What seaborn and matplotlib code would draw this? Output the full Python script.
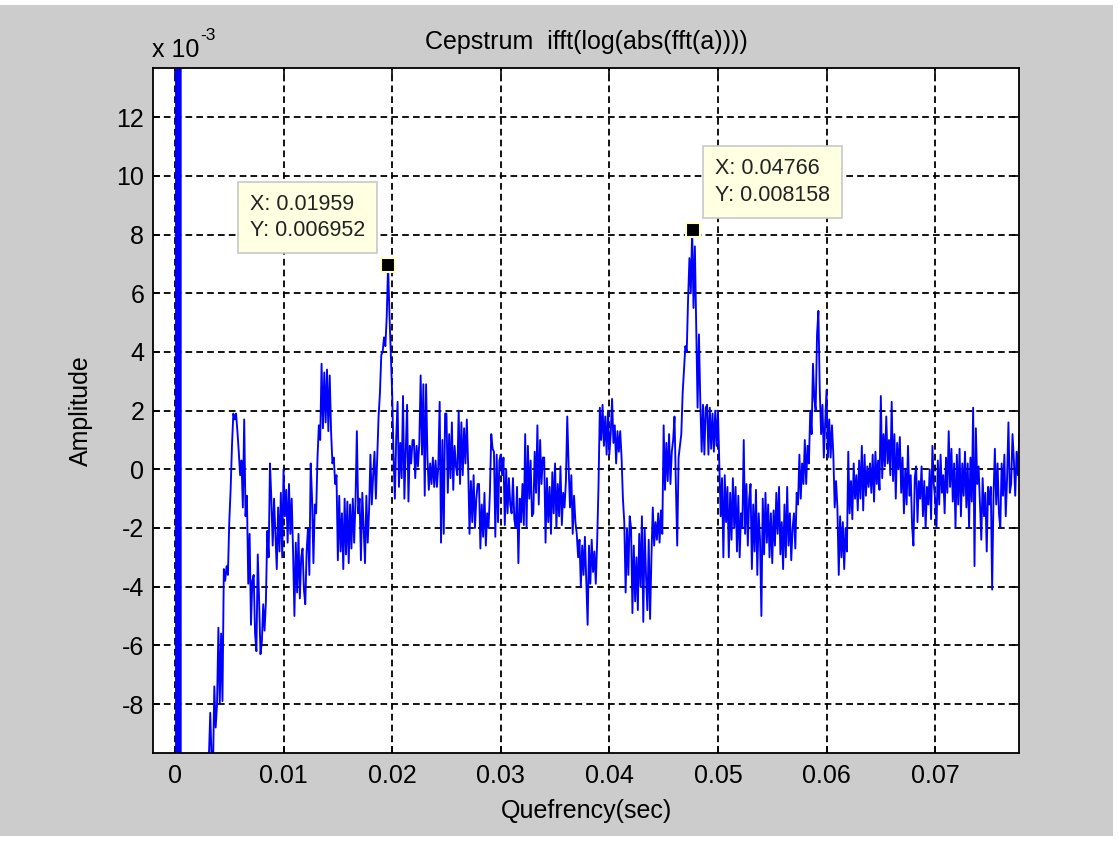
import numpy as np
import seaborn as sns
import matplotlib.pyplot as plt
from matplotlib.patches import Rectangle
from matplotlib.ticker import FuncFormatter

plt.rcParams["font.family"] = ["Liberation Sans", "DejaVu Sans"]
plt.rcParams["axes.unicode_minus"] = False

# first samples at the native rate (huge values around zero quefrency)
fs_rate = 22050
amp_start = [-300, -250, -200, 150, -120, 100, -90, 70, -60, 50, -45, 35, -30, -15]

# rest of the trace, in units of 1e-3,
# one row per millisecond starting at 3 ms, step 0.125 ms
t_main0 = 0.003
dt = 0.000125
amp_ms = [
    [-10.5, -9.8, -8.3, -9.9, -10.2, -7.4, -8.8, -8.0],   # 3 ms
    [-5.4, -8.0, -5.6, -7.9, -3.4, -3.8, -3.3, -3.6],
    [-1.8, -0.7, 0.8, 1.9, 1.7, 1.9, 1.3, 0.6],
    [-0.2, 0.3, -1.3, 1.7, -1.6, -0.9, -3.9, -2.2],
    [-5.3, -3.8, -3.6, -5.6, -6.2, -2.9, -4.5, -6.3],
    [-5.9, -4.6, -5.5, -4.5, -2.1, -3.0, 0.2, -1.0],
    [-2.6, -1.0, -2.2, -3.4, -1.3, -2.8, -0.8, -3.0],
    [0.0, -1.6, -0.7, -2.5, -0.5, -2.2, -1.0, -2.8],      # 10 ms
    [-5.0, -2.5, -4.2, -2.2, -4.4, -3.0, -2.7, -4.1],
    [-4.6, -2.8, -2.0, -3.6, 0.2, -1.0, -3.2, -1.2],
    [-1.5, 0.4, 1.5, 1.0, 3.6, 1.4, 3.3, 1.6],
    [3.4, 1.3, 3.2, 1.3, 0.2, 0.4, -0.5, -0.2],
    [-3.1, -0.9, -2.8, -1.5, -3.4, -1.0, -2.9, -1.1],
    [-3.2, -1.2, -2.7, -1.0, -2.5, -1.1, 1.3, -1.5],
    [-1.0, -3.1, -0.8, -2.0, -3.2, -0.9, -2.5, -1.4],
    [0.5, -1.2, -0.2, 0.6, -1.0, 0.4, 1.8, 2.6],
    [3.9, 4.0, 4.5, 4.2, 5.2, 6.952, 5.3, 4.0],
    [2.6, 0.5, -1.0, 1.1, 2.3, -0.6, 0.9, -0.3],          # 20 ms
    [2.5, -1.0, 0.6, 2.2, -1.1, 0.8, 0.2, 1.0],
    [1.0, -0.3, 0.8, 0.1, 0.9, 3.2, 0.5, 2.9],
    [-0.9, 2.9, 0.4, -0.7, 0.2, -0.5, 0.4, -0.6],
    [0.3, -0.6, 0.1, 2.3, -2.5, 1.0, -2.2, 1.9],
    [1.9, -0.8, 1.2, -0.3, 1.6, -0.7, 0.8, 0.1],
    [-0.2, 2.0, -0.5, 1.6, -0.2, 1.4, 0.2, 1.7],
    [0.1, -2.2, -0.4, -1.8, -0.2, -2.0, -1.0, -0.5],
    [-0.5, -2.7, -1.2, -2.3, -0.8, -2.6, -1.5, -2.0],
    [-0.8, 1.2, 0.7, 0.6, -2.3, 0.5, -1.8, 0.3],
    [0.5, -0.2, 0.4, -1.9, 0.0, -1.5, -0.3, -1.2],        # 30 ms
    [-1.5, -0.3, -1.7, -2.0, -0.6, -3.2, -1.0, -1.8],
    [-0.5, -1.9, 1.2, -2.0, 0.8, -1.0, 0.3, -1.6],
    [-1.5, 0.6, -0.8, 1.5, -1.2, 1.0, -0.5, 0.4],
    [0.4, -2.5, -0.3, -1.8, -0.6, -2.2, -0.1, -1.5],
    [0.2, -2.0, -0.5, -1.6, 0.1, -1.9, -0.8, -1.3],
    [-0.4, 1.8, 0.1, -1.3, -0.2, -2.2, -0.9, -1.8],
    [-2.2, -3.0, -2.4, -4.0, -2.6, -3.6, -2.3, -3.8],
    [-5.3, -2.6, -3.9, -2.4, -3.5, -2.8, -3.9, -2.5],
    [-0.6, 2.1, 1.0, 2.2, 0.8, 1.8, 0.5, 2.0],
    [0.5, 1.2, 2.4, 0.9, 1.5, 0.2, 1.3, 0.6],             # 40 ms
    [1.3, 0.4, -1.0, -1.8, -4.2, -2.0, -3.6, -1.6],
    [-2.0, -4.9, -2.6, -4.5, -3.0, -4.8, -2.2, -4.0],
    [-1.6, -5.2, -2.0, -3.6, -4.8, -2.4, -5.1, -3.0],
    [-1.3, -2.6, -1.8, -2.4, -1.5, -2.5, -1.4, -2.2],
    [1.5, -0.7, 0.9, -0.4, 1.2, -0.5, 0.6, 1.0],
    [1.8, -0.5, -2.6, 0.4, 0.8, 1.2, 2.6, 3.4],
    [4.2, 4.0, 5.8, 7.2, 6.0, 8.158, 5.5, 7.6],
    [4.9, 2.1, 4.6, 2.3, 0.6, 2.2, 0.5, 2.1],
    [2.2, 0.5, 2.1, 0.7, 1.9, 0.6, 2.0, 0.8],
    [2.0, 0.2, -1.6, -0.3, -3.0, -0.2, -1.8, -0.6],       # 50 ms
    [-3.0, -0.8, -2.4, -0.3, -2.0, -0.6, -2.8, -0.9],
    [-3.0, -1.5, -2.0, 1.0, -2.2, -0.5, -2.6, -1.0],
    [-0.5, -3.4, -1.2, -2.8, -0.7, -3.6, -1.5, -2.4],
    [-5.0, -1.0, -2.9, -0.8, -2.5, -1.2, -3.0, -1.5],
    [-3.2, -1.4, -2.6, -0.8, -2.2, -0.6, -2.9, -1.8],
    [-3.4, -1.2, -3.0, -0.6, -2.6, -1.5, -3.1, -2.0],
    [-1.5, -2.7, -0.8, -1.2, 0.5, -1.0, 0.2, -0.5],
    [1.0, -0.5, 0.8, 0.2, 2.0, 1.2, 3.6, 2.4],
    [2.0, 4.6, 5.4, 2.7, 1.2, 2.2, 0.4, 1.6],
    [2.7, 0.4, 1.7, 0.4, 1.5, 0.5, -1.3, -0.4],           # 60 ms
    [-1.3, -3.6, -1.6, -3.0, -1.8, -3.4, -2.0, -2.8],
    [0.6, -1.5, -0.4, -1.7, 0.2, -1.0, -0.2, -1.4],
    [0.3, -1.0, 0.8, -1.4, 0.5, -0.9, 0.1, -0.6],
    [0.2, -0.8, 0.5, -1.1, 0.6, -0.5, 0.3, -0.7],
    [2.5, -0.3, 1.2, 0.1, 1.8, 0.2, 1.0, -0.2],
    [2.3, -0.4, 1.2, -1.0, 0.9, 0.0, 1.1, -0.8],
    [0.4, -1.5, 0.0, -1.2, 0.8, -0.9, -0.2, -1.9],
    [-2.6, -0.3, 0.1, -1.8, -0.4, -1.0, 0.1, -1.6],
    [-0.4, -2.0, -0.6, -1.2, 0.0, -1.7, 0.8, -0.5],
    [-1.0, -2.0, 0.3, -1.2, 0.5, -0.8, -0.2, -1.5],       # 70 ms
    [0.4, -0.8, 1.3, -0.6, 0.7, -1.1, 0.2, -2.0],
    [0.5, -1.2, 0.7, -1.6, 0.2, -0.9, 0.6, -1.3],
    [0.2, -2.0, 0.4, -1.1, 2.1, -3.3, 1.4, -0.5],
    [0.1, -1.2, -2.4, -0.3, -1.6, -0.8, -2.8, -0.6],
    [-1.2, -0.6, -4.1, -0.9, 0.7, -1.2, 0.2, -1.5],
    [-2.0, 0.2, -0.9, 0.5, -1.6, -0.3, 1.6, -0.8],
    [-0.5, 1.2, 0.3, -0.9, 0.6, -0.2, 1.2],               # 77 ms
]

# data tips shown on the chart
tip_x = [0.01959, 0.04766]
tip_y = [0.006952, 0.008158]
tip_text = ["X: 0.01959\nY: 0.006952", "X: 0.04766\nY: 0.008158"]
tip_offset = [(-80, 48), (80, 48)]

amp_main = np.concatenate([np.asarray(r, dtype=float) for r in amp_ms])
amp = np.concatenate([amp_start, amp_main]) * 1e-3
quef = np.concatenate([np.arange(len(amp_start)) / fs_rate,
                       t_main0 + np.arange(len(amp_main)) * dt])

W, H = 1119, 841
fig = plt.figure(figsize=(W / 100, H / 100), dpi=100, facecolor="white")
fig.patches.append(Rectangle((0, 5 / H), 1 - 6 / W, 1 - 10 / H, transform=fig.transFigure,
                             facecolor="#cccccc", edgecolor="none", zorder=-10))
ax = fig.add_axes([152.7 / W, (H - 752.7) / H, 866.6 / W, 684.4 / H])
ax.set_facecolor("white")
fs = 18

sns.lineplot(x=quef, y=amp, ax=ax, color="#0000ff", lw=1.35, estimator=None, sort=False)

ax.set_xlim(-0.00205, 0.07775)
ax.set_ylim(-9.66e-3, 13.67e-3)
ax.set_xticks(np.arange(0, 0.071, 0.01))
ax.set_yticks(np.arange(-8, 13, 2) * 1e-3)
ax.xaxis.set_major_formatter(FuncFormatter(lambda v, p: f"{v:.2f}".rstrip("0").rstrip(".") if abs(v) > 1e-9 else "0"))
ax.yaxis.set_major_formatter(FuncFormatter(lambda v, p: f"{v * 1e3:.0f}"))

ax.grid(True, color="black", linestyle=(0, (3.7, 2.3)), lw=1.3)
ax.set_axisbelow(True)
ax.tick_params(direction="in", top=True, right=True, length=5, width=1.2,
               labelsize=fs, colors="black")
ax.tick_params(axis="x", pad=8)
ax.tick_params(axis="y", pad=6)
for s in ax.spines.values():
    s.set_color("black")
    s.set_linewidth(1.3)

ax.set_title("Cepstrum  ifft(log(abs(fft(a))))", fontsize=fs, pad=14)
ax.set_xlabel("Quefrency(sec)", fontsize=fs, labelpad=8)
ax.set_ylabel("Amplitude", fontsize=fs, labelpad=17)

# exponent label above the y axis
fig.text(151.7 / W, (H - 56.7) / H, "x 10", fontsize=fs, ha="left", va="baseline")
fig.text(200.5 / W, (H - 40) / H, "-3", fontsize=12.5, ha="left", va="baseline")

# data tip markers and boxes
for x, y, txt, off in zip(tip_x, tip_y, tip_text, tip_offset):
    ax.plot([x], [y], marker="s", ms=10, mfc="black", mec="#ffffcc", mew=1.5,
            zorder=5, clip_on=False)
    ax.annotate(txt, xy=(x, y), xytext=off, textcoords="offset pixels",
                ha="center", va="center", multialignment="left",
                fontsize=15.5, color="#222222", linespacing=1.35, zorder=6,
                bbox=dict(boxstyle="square,pad=0.55", fc="#ffffe1", ec="#c8c8c8", lw=1.2))

fig.savefig("out.png", dpi=100, facecolor=fig.get_facecolor())
